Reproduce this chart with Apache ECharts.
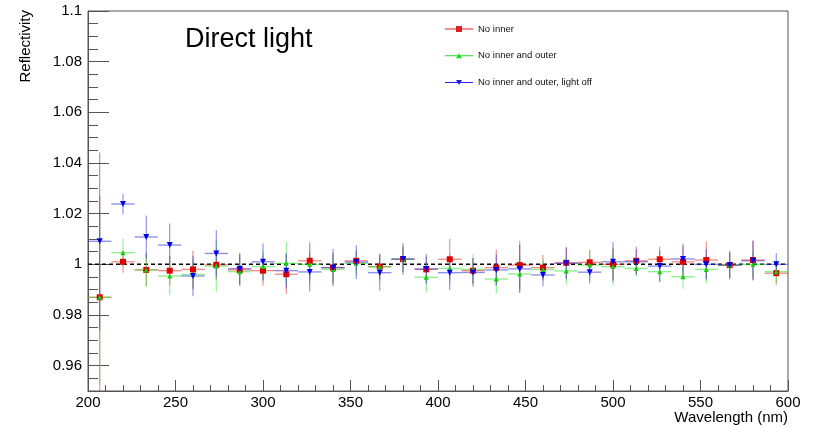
<!DOCTYPE html>
<html>
<head>
<meta charset="utf-8">
<script src="https://cdn.jsdelivr.net/npm/echarts@6/dist/echarts.min.js"></script>
<style>
html,body{margin:0;padding:0;background:#fff;}
#chart{width:817px;height:428px;}
</style>
</head>
<body>
<div id="chart"></div>
<script>
// ---- data ----
const wavelengths = [206.7, 220, 233.3, 246.7, 260, 273.3, 286.7, 300, 313.3, 326.7,
  340, 353.3, 366.7, 380, 393.3, 406.7, 420, 433.3, 446.7, 460,
  473.3, 486.7, 500, 513.3, 526.7, 540, 553.3, 566.7, 580, 593.3];
const binHalfWidth = 6.67;

const seriesNames = ["No inner", "No inner and outer", "No inner and outer, light off"];

const noInner = [0.987, 1.001, 0.9978, 0.9975, 0.998, 0.9998, 0.9978, 0.9975, 0.9961, 1.0014,
  0.9987, 1.0014, 0.9991, 1.002, 0.998, 1.002, 0.9975, 0.9987, 0.9997, 0.9987,
  1.0006, 1.0008, 1.0, 1.0014, 1.002, 1.001, 1.0017, 0.9997, 1.0017, 0.9965];
const noInnerErr = [0.04, 0.0043, 0.0065, 0.006, 0.0075, 0.006, 0.006, 0.006, 0.0078, 0.0075,
  0.006, 0.004, 0.005, 0.005, 0.005, 0.008, 0.005, 0.0072, 0.0095, 0.005,
  0.006, 0.005, 0.006, 0.0056, 0.005, 0.006, 0.0073, 0.005, 0.0078, 0.0046];

const noInnerOuter = [0.987, 1.0046, 0.9978, 0.9954, 0.996, 0.9993, 0.9971, 0.9991, 1.0004, 1.0,
  0.998, 1.0004, 0.999, 1.002, 0.9949, 0.9984, 0.998, 0.9942, 0.9962, 0.998,
  0.9974, 0.9997, 0.9991, 0.9984, 0.9971, 0.9951, 0.998, 0.9997, 1.0, 0.9971];
const noInnerOuterErr = [0.034, 0.0055, 0.0066, 0.0075, 0.006, 0.01, 0.006, 0.006, 0.0085, 0.008,
  0.006, 0.005, 0.0055, 0.005, 0.006, 0.006, 0.006, 0.0058, 0.007, 0.004,
  0.0055, 0.006, 0.0075, 0.0033, 0.0042, 0.0047, 0.0055, 0.005, 0.005, 0.0045];

const lightOff = [1.0091, 1.0238, 1.0108, 1.0076, 0.9954, 1.0043, 0.9983, 1.001, 0.9975, 0.997,
  0.9987, 1.0009, 0.9967, 1.0021, 0.9982, 0.9967, 0.9968, 0.9978, 0.9982, 0.9958,
  1.0004, 0.9969, 1.001, 1.001, 0.9993, 1.0021, 1.0, 0.9997, 1.0014, 1.0];
const lightOffErr = [0.035, 0.004, 0.0085, 0.0085, 0.008, 0.0092, 0.0063, 0.0072, 0.007, 0.0077,
  0.0074, 0.0067, 0.007, 0.0063, 0.006, 0.0068, 0.0056, 0.006, 0.0095, 0.0045,
  0.0063, 0.0045, 0.0078, 0.005, 0.0062, 0.006, 0.006, 0.0057, 0.0078, 0.0045];

const refX = [200, 600];
const refY = 1;

const xTicks = [200, 250, 300, 350, 400, 450, 500, 550, 600];
const yTickLabels = [0.96, 0.98, 1.0, 1.02, 1.04, 1.06, 1.08, 1.1];

// ---- chart ----
const FONT = "'Liberation Sans', Arial, Helvetica, sans-serif";
const chart = echarts.init(document.getElementById('chart'), null, {renderer: 'canvas'});

function errSeries(name, vals, errs, color) {
  return {
    name: name,
    type: 'custom',
    clip: true,
    silent: true,
    z: 2,
    encode: {x: 0, y: 1},
    data: wavelengths.map((w, i) => [w, vals[i], errs[i]]),
    renderItem: function (params, api) {
      const x = api.value(0), y = api.value(1), e = api.value(2);
      const l = api.coord([x - binHalfWidth, y]);
      const r = api.coord([x + binHalfWidth, y]);
      const t = api.coord([x, y + e]);
      const b = api.coord([x, y - e]);
      return {
        type: 'group',
        children: [
          {type: 'line', shape: {x1: l[0], y1: l[1], x2: r[0], y2: r[1]}, style: {stroke: color, lineWidth: 1.3}},
          {type: 'line', shape: {x1: t[0], y1: t[1], x2: b[0], y2: b[1]}, style: {stroke: color, lineWidth: 1.1}}
        ]
      };
    }
  };
}

function markerSeries(name, vals, color, symbol, size, rotate) {
  return {
    name: name,
    type: 'scatter',
    z: 3,
    symbol: symbol,
    symbolSize: size,
    symbolRotate: rotate || 0,
    itemStyle: {color: color, opacity: 1},
    emphasis: {disabled: true},
    data: wavelengths.map((w, i) => [w, vals[i]])
  };
}

const option = {
  backgroundColor: '#ffffff',
  animation: false,
  textStyle: {fontFamily: FONT},
  title: {
    text: 'Direct light',
    left: 185, top: 26, padding: 0,
    textStyle: {fontFamily: FONT, fontSize: 27, fontWeight: 'normal', color: '#000'}
  },
  legend: {
    orient: 'vertical',
    left: 445, top: 24,
    padding: 0,
    itemWidth: 28, itemHeight: 10, itemGap: 16.8,
    textStyle: {fontFamily: FONT, fontSize: 9.5, color: '#111'},
    selectedMode: false,
    data: [
      {name: seriesNames[0], icon: 'path://M0,4.5L28,4.5L28,5.5L0,5.5Z M11,2L17,2L17,8L11,8Z', itemStyle: {color: '#e02020'}},
      {name: seriesNames[1], icon: 'path://M0,4.5L28,4.5L28,5.5L0,5.5Z M14,2.5L17,7.5L11,7.5Z', itemStyle: {color: '#22dd22'}},
      {name: seriesNames[2], icon: 'path://M0,4.5L28,4.5L28,5.5L0,5.5Z M11,2.5L17,2.5L14,7.5Z', itemStyle: {color: '#2020e0'}}
    ]
  },
  grid: {
    left: 88, right: 29, top: 11, bottom: 37,
    show: true, borderColor: '#555', borderWidth: 1, backgroundColor: 'transparent'
  },
  xAxis: {
    type: 'value', min: 200, max: 600, interval: 50,
    name: 'Wavelength (nm)', nameLocation: 'end', nameGap: 0,
    nameTextStyle: {fontFamily: FONT, fontSize: 15, color: '#000', align: 'right', verticalAlign: 'top', padding: [19, 0, 0, 0]},
    axisLine: {show: true, onZero: false, lineStyle: {color: '#555', width: 1}},
    axisTick: {show: true, inside: true, length: 11, lineStyle: {color: '#555'}},
    minorTick: {show: true, splitNumber: 5, length: 6, lineStyle: {color: '#555'}},
    axisLabel: {fontFamily: FONT, fontSize: 15, color: '#000', margin: 4, showMinLabel: true, showMaxLabel: true},
    splitLine: {show: false}
  },
  yAxis: [
    {
      type: 'value', min: 0.95, max: 1.1,
      axisLine: {show: true, onZero: false, lineStyle: {color: '#555', width: 1}},
      axisTick: {show: true, inside: true, length: 21, customValues: yTickLabels, lineStyle: {color: '#555'}},
      axisLabel: {
        fontFamily: FONT, fontSize: 15, color: '#000', margin: 6,
        customValues: yTickLabels,
        formatter: v => String(+(+v).toFixed(2))
      },
      splitLine: {show: false}
    },
    {
      type: 'value', min: 0.95, max: 1.1, interval: 0.005, position: 'left',
      axisLine: {show: false},
      axisTick: {show: true, inside: true, length: 10, lineStyle: {color: '#555'}},
      axisLabel: {show: false},
      splitLine: {show: false}
    }
  ],
  graphic: [
    {
      type: 'text', x: 26, y: 10, rotation: Math.PI / 2,
      style: {text: 'Reflectivity', fontFamily: FONT, fontSize: 15, fill: '#000', align: 'right', verticalAlign: 'middle'}
    }
  ],
  series: [
    {
      name: 'ref', type: 'line', silent: true, z: 1,
      symbol: 'none',
      lineStyle: {color: '#000', width: 1.5, type: [4, 3]},
      data: refX.map(x => [x, refY])
    },
    errSeries(seriesNames[0], noInner, noInnerErr, 'rgba(230,40,40,0.55)'),
    markerSeries(seriesNames[0], noInner, '#e00000', 'rect', 6),
    errSeries(seriesNames[1], noInnerOuter, noInnerOuterErr, 'rgba(40,230,40,0.55)'),
    markerSeries(seriesNames[1], noInnerOuter, '#11cc11', 'triangle', 5),
    errSeries(seriesNames[2], lightOff, lightOffErr, 'rgba(40,40,220,0.55)'),
    markerSeries(seriesNames[2], lightOff, '#0000ee', 'triangle', 6, 180)
  ]
};
chart.setOption(option);
</script>
</body>
</html>
